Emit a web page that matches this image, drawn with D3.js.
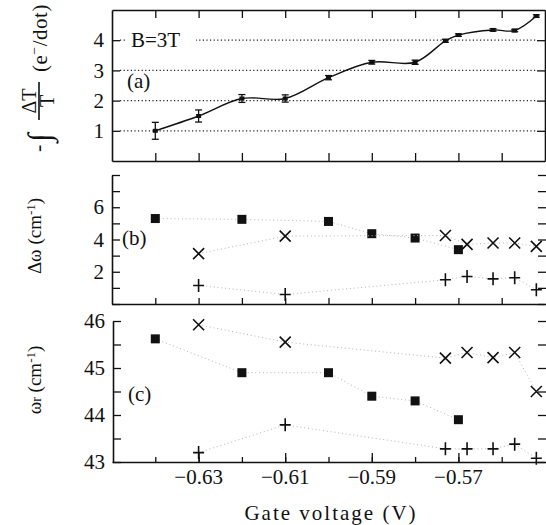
<!DOCTYPE html>
<html>
<head>
<meta charset="utf-8">
<script src="https://cdn.jsdelivr.net/npm/d3@7"></script>
<style>
  body { margin: 0; background: #fff; }
  svg { display: block; }
  text { font-family: "Liberation Serif", "Times New Roman", Times, "DejaVu Serif", serif; fill: #111; }
</style>
</head>
<body>
<div id="chart"></div>
<script>
var w = 546, h = 525;

// gate voltage ticks
var minorTicks = [-0.64, -0.63, -0.62, -0.61, -0.60, -0.59, -0.58, -0.57, -0.56];
var majorTicks = [-0.63, -0.61, -0.59, -0.57];

// panel (a): integrated charge with error bars
var gateA = [-0.64, -0.63, -0.62, -0.61, -0.60, -0.59, -0.58, -0.573, -0.570, -0.562, -0.557, -0.552];
var chargeA = [1.0, 1.49, 2.07, 2.07, 2.76, 3.27, 3.27, 3.98, 4.17, 4.34, 4.32, 4.8];
var errA = [0.28, 0.2, 0.13, 0.12, 0.07, 0.06, 0.07, 0.05, 0.04, 0.04, 0.04, 0.04];
var gridA = [1, 2, 3, 4];

// panels (b) and (c): three series (squares, crosses, pluses)
var gateSq = [-0.64, -0.62, -0.60, -0.59, -0.58, -0.57];
var widthSq = [5.3, 5.25, 5.12, 4.36, 4.09, 3.37];
var posSq = [45.62, 44.9, 44.9, 44.4, 44.3, 43.9];

var gateCross = [-0.63, -0.61, -0.573, -0.568, -0.562, -0.557, -0.552];
var widthCross = [3.12, 4.21, 4.25, 3.7, 3.78, 3.78, 3.57];
var posCross = [45.92, 45.55, 45.21, 45.33, 45.22, 45.33, 44.5];

var gatePlus = [-0.63, -0.61, -0.573, -0.568, -0.562, -0.557, -0.552];
var widthPlus = [1.15, 0.59, 1.5, 1.71, 1.56, 1.63, 0.88];
var posPlus = [43.2, 43.79, 43.28, 43.28, 43.28, 43.38, 43.08];

var ticksB = [0, 1, 2, 3, 4, 5, 6, 7, 8];
var labelsB = [2, 4, 6];
var ticksC = [43, 43.5, 44, 44.5, 45, 45.5, 46];
var labelsC = [43, 44, 45, 46];

var serif = '"Liberation Serif", "Times New Roman", Times, "DejaVu Serif", serif';

var svg = d3.select("#chart").append("svg").attr("width", w).attr("height", h);

var x = d3.scaleLinear().domain([-0.65, -0.55]).range([112, 545]);
var ya = d3.scaleLinear().domain([0, 5]).range([161, 10]);
var yb = d3.scaleLinear().domain([0, 8]).range([304, 175]);
var yc = d3.scaleLinear().domain([43, 46]).range([462, 321]);

function styleAxis(g, noDomain) {
  g.selectAll("line").attr("stroke", "#111").attr("stroke-width", 1.3);
  g.select(".domain").attr("stroke", "#111").attr("stroke-width", 1.6);
  if (noDomain) g.select(".domain").remove();
  g.selectAll("text").attr("font-size", 21).attr("fill", "#111").style("font-family", serif);
}

// ---------- panel (a) ----------
// dotted gridlines
svg.append("g").selectAll("line").data(gridA).enter().append("line")
  .attr("x1", x.range()[0] + 8).attr("x2", x.range()[1] - 8)
  .attr("y1", d => ya(d)).attr("y2", d => ya(d))
  .attr("stroke", "#222").attr("stroke-width", 1.2).attr("stroke-dasharray", "1.2,2.4");

svg.append("g").attr("transform", "translate(0,10)")
  .call(d3.axisBottom(x).tickValues(minorTicks).tickSize(8).tickSizeOuter(0).tickFormat(""))
  .call(styleAxis);
svg.append("g").attr("transform", "translate(0,161)")
  .call(d3.axisTop(x).tickValues(minorTicks).tickSize(8).tickSizeOuter(0).tickFormat(""))
  .call(styleAxis);
svg.append("g").attr("transform", "translate(112,0)")
  .call(d3.axisLeft(ya).tickValues(gridA).tickSize(-8).tickPadding(8).tickSizeOuter(0).tickFormat(d3.format("d")))
  .call(styleAxis);
svg.append("g").attr("transform", "translate(545,0)")
  .call(d3.axisRight(ya).tickValues(gridA).tickSize(-8).tickSizeOuter(0).tickFormat(""))
  .call(styleAxis);

// label "B=3T" sits on the 4 gridline
svg.append("rect").attr("x", 126).attr("y", ya(4) - 12).attr("width", 70).attr("height", 22).attr("fill", "#fff");
svg.append("text").attr("x", 131).attr("y", 47).attr("font-size", 21).text("B=3T");
svg.append("text").attr("x", 127).attr("y", 88).attr("font-size", 21).text("(a)");

var ptsA = gateA.map((g, i) => [g, chargeA[i], errA[i]]);
svg.append("path").datum(ptsA)
  .attr("fill", "none").attr("stroke", "#111").attr("stroke-width", 1.4)
  .attr("d", d3.line().x(d => x(d[0])).y(d => ya(d[1])).curve(d3.curveCatmullRom.alpha(0.5)));

var eb = svg.append("g").selectAll("g").data(ptsA).enter().append("g");
eb.append("line")
  .attr("x1", d => x(d[0])).attr("x2", d => x(d[0]))
  .attr("y1", d => ya(d[1] - d[2])).attr("y2", d => ya(d[1] + d[2]))
  .attr("stroke", "#111").attr("stroke-width", 1.3);
eb.selectAll("line.cap").data(d => [[d[0], d[1] - d[2]], [d[0], d[1] + d[2]]]).enter()
  .append("line").attr("class", "cap")
  .attr("x1", d => x(d[0]) - 3.5).attr("x2", d => x(d[0]) + 3.5)
  .attr("y1", d => ya(d[1])).attr("y2", d => ya(d[1]))
  .attr("stroke", "#111").attr("stroke-width", 1.3);
eb.append("rect")
  .attr("x", d => x(d[0]) - 2.5).attr("y", d => ya(d[1]) - 2)
  .attr("width", 5).attr("height", 4).attr("fill", "#111");

// ---------- shared helpers for (b) and (c) ----------
function drawSeries(yScale, gates, vals, kind) {
  var pts = gates.map((g, i) => [g, vals[i]]);
  // faint dotted guide line, as in the scanned original
  svg.append("path").datum(pts)
    .attr("fill", "none").attr("stroke", "#b4b4b4").attr("stroke-width", 1)
    .attr("stroke-dasharray", "1,2.8")
    .attr("d", d3.line().x(d => x(d[0])).y(d => yScale(d[1])));
  var g = svg.append("g");
  if (kind === "square") {
    g.selectAll("rect").data(pts).enter().append("rect")
      .attr("x", d => x(d[0]) - 4.5).attr("y", d => yScale(d[1]) - 4.5)
      .attr("width", 9).attr("height", 9).attr("fill", "#111");
  } else {
    var s = 5.5;
    g.selectAll("path").data(pts).enter().append("path")
      .attr("d", function (d) {
        var cx = x(d[0]), cy = yScale(d[1]);
        if (kind === "cross")
          return "M" + (cx - s) + "," + (cy - s) + "L" + (cx + s) + "," + (cy + s) +
                 "M" + (cx - s) + "," + (cy + s) + "L" + (cx + s) + "," + (cy - s);
        return "M" + (cx - s) + "," + cy + "L" + (cx + s) + "," + cy +
               "M" + cx + "," + (cy - s - 1) + "L" + cx + "," + (cy + s + 1);
      })
      .attr("stroke", "#111").attr("stroke-width", 1.6).attr("fill", "none");
  }
}

// ---------- panel (b) ----------
svg.append("g").attr("transform", "translate(0,304)")
  .call(d3.axisTop(x).tickValues(minorTicks).tickSize(6).tickSizeOuter(0).tickFormat(""))
  .call(styleAxis);
svg.append("g").attr("transform", "translate(112,0)")
  .call(d3.axisLeft(yb).tickValues(ticksB).tickSize(-8).tickPadding(8).tickSizeOuter(0)
    .tickFormat(d => labelsB.indexOf(d) >= 0 ? d : ""))
  .call(styleAxis);
svg.append("g").attr("transform", "translate(546,0)")
  .call(d3.axisRight(yb).tickValues(ticksB).tickSize(-8).tickSizeOuter(0).tickFormat(""))
  .call(styleAxis, true);

svg.append("text").attr("x", 122).attr("y", 245).attr("font-size", 21).text("(b)");

drawSeries(yb, gateSq, widthSq, "square");
drawSeries(yb, gateCross, widthCross, "cross");
drawSeries(yb, gatePlus, widthPlus, "plus");

// ---------- panel (c) ----------
svg.append("g").attr("transform", "translate(0,462)")
  .call(d3.axisTop(x).tickValues(minorTicks).tickSize(5).tickSizeOuter(0).tickFormat(""))
  .call(styleAxis);
svg.append("g").attr("transform", "translate(0,462)")
  .call(d3.axisTop(x).tickValues(majorTicks).tickSize(9).tickSizeOuter(0).tickFormat(""))
  .call(styleAxis, true);
svg.append("g").attr("transform", "translate(113,0)")
  .call(d3.axisLeft(yc).tickValues(ticksC).tickSize(-8).tickPadding(8).tickSizeOuter(0)
    .tickFormat(d => labelsC.indexOf(d) >= 0 ? d : ""))
  .call(styleAxis);
svg.append("g").attr("transform", "translate(546,0)")
  .call(d3.axisRight(yc).tickValues(ticksC).tickSize(-8).tickSizeOuter(0).tickFormat(""))
  .call(styleAxis, true);

svg.append("g").selectAll("text").data(majorTicks).enter().append("text")
  .attr("x", d => x(d)).attr("y", 484).attr("text-anchor", "middle").attr("font-size", 21)
  .text(d => "\u2212" + Math.abs(d).toFixed(2));

svg.append("text").attr("x", 128).attr("y", 401).attr("font-size", 21).text("(c)");

drawSeries(yc, gateSq, posSq, "square");
drawSeries(yc, gateCross, posCross, "cross");
drawSeries(yc, gatePlus, posPlus, "plus");

// ---------- axis titles ----------
svg.append("text").attr("x", 331).attr("y", 520).attr("text-anchor", "middle")
  .attr("font-size", 21).attr("letter-spacing", 2).text("Gate voltage (V)");

// (a) title: - ∫ ΔT/T (e⁻/dot)
var ta = svg.append("g").attr("transform", "translate(40,152) rotate(-90)");
ta.append("text").attr("x", 0).attr("y", 5).attr("font-size", 22).text("-");
ta.append("text").attr("x", 10).attr("y", 10).attr("font-size", 32).text("\u222B");
ta.append("line").attr("x1", 32).attr("x2", 70).attr("y1", -1).attr("y2", -1)
  .attr("stroke", "#111").attr("stroke-width", 1.6);
ta.append("text").attr("x", 51).attr("y", -4).attr("text-anchor", "middle").attr("font-size", 20).text("\u0394T");
ta.append("text").attr("x", 51).attr("y", 14).attr("text-anchor", "middle").attr("font-size", 20).text("T");
var tae = ta.append("text").attr("x", 80).attr("y", 7).attr("font-size", 21).attr("letter-spacing", 0.5);
tae.append("tspan").text("(e");
tae.append("tspan").attr("dy", -8).attr("font-size", 14).text("\u2212");
tae.append("tspan").attr("dy", 8).text("/dot)");

// (b) title
var tb = svg.append("text").attr("transform", "translate(41,236) rotate(-90)")
  .attr("text-anchor", "middle").attr("font-size", 19);
tb.append("tspan").text("\u0394\u03C9  (cm");
tb.append("tspan").attr("dy", -6).attr("font-size", 13).text("-1");
tb.append("tspan").attr("dy", 6).text(")");

// (c) title
var tc = svg.append("text").attr("transform", "translate(41,380) rotate(-90)")
  .attr("text-anchor", "middle").attr("font-size", 19);
tc.append("tspan").text("\u03C9");
tc.append("tspan").attr("font-size", 14).text("r");
tc.append("tspan").text(" (cm");
tc.append("tspan").attr("dy", -6).attr("font-size", 13).text("-1");
tc.append("tspan").attr("dy", 6).text(")");
</script>
</body>
</html>
